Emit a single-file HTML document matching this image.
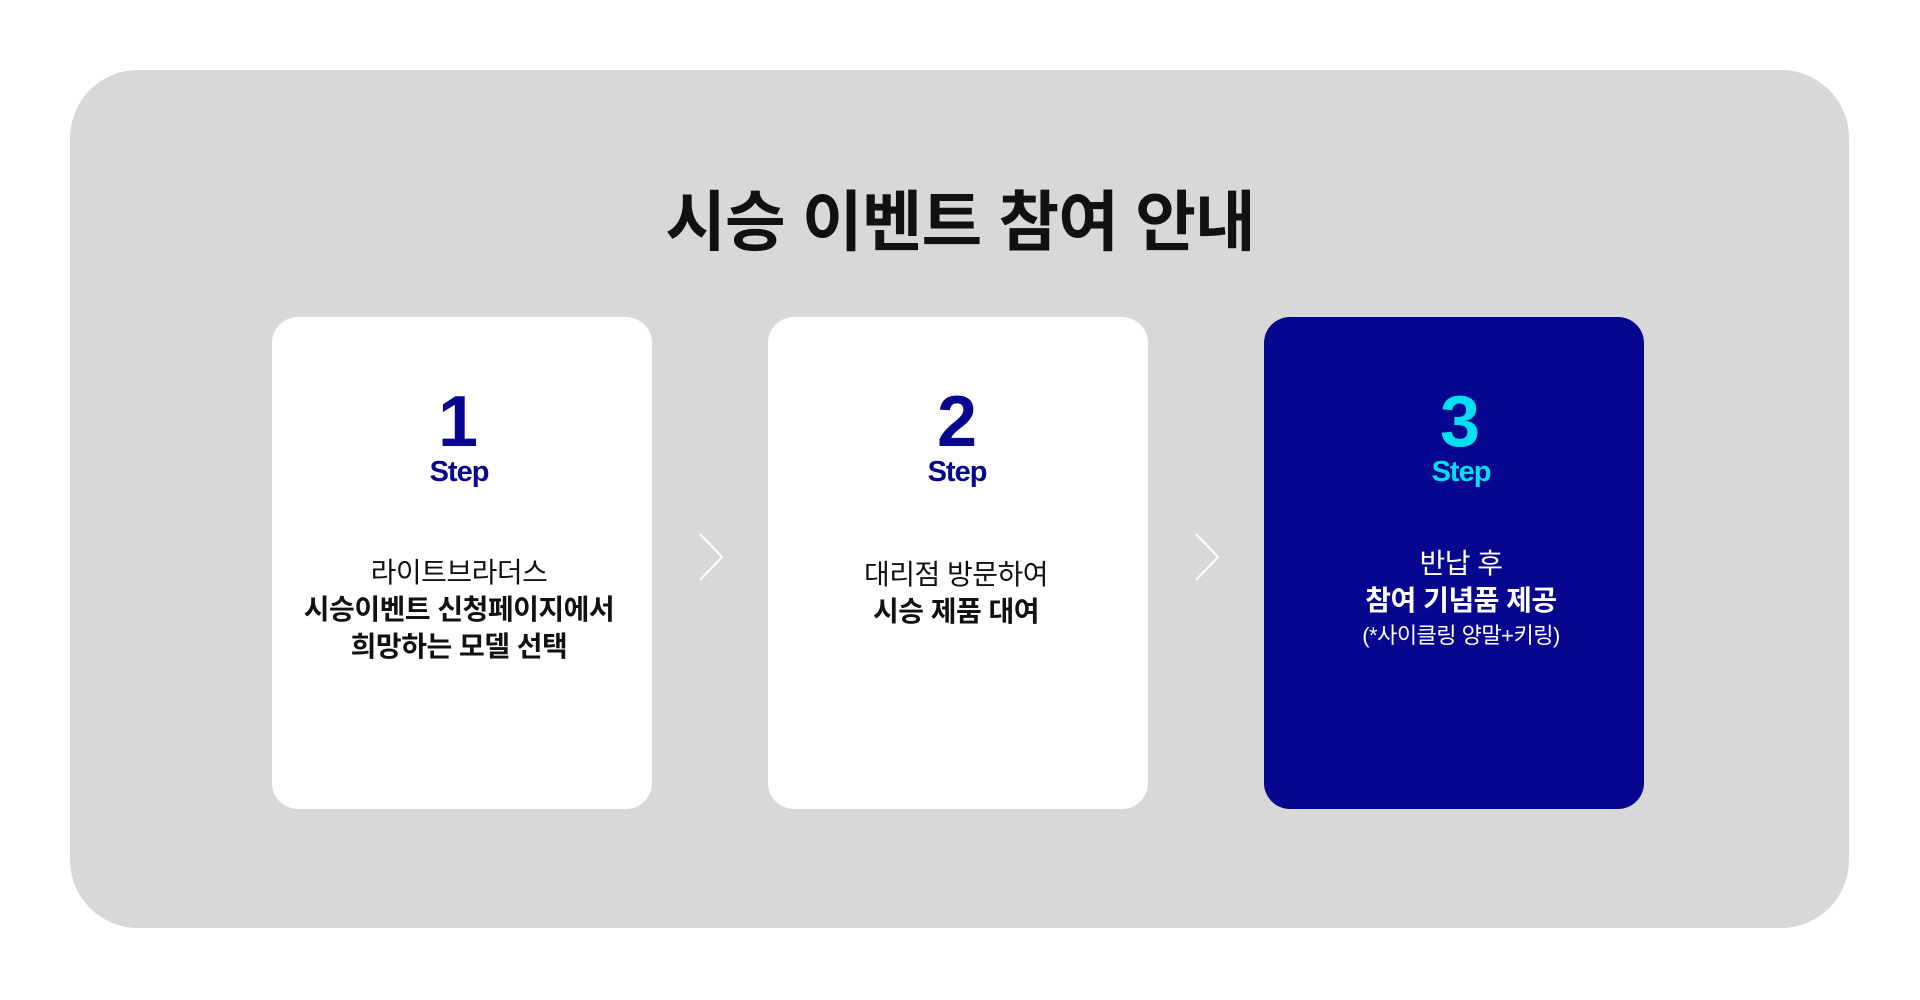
<!DOCTYPE html>
<html><head><meta charset="utf-8"><style>
body{margin:0;width:1920px;height:1000px;background:#fff;position:relative;overflow:hidden;font-family:"Liberation Sans","Noto Sans CJK KR",sans-serif}
.panel{position:absolute;left:70px;top:70px;width:1779px;height:858px;background:#d8d8d8;border-radius:68px}
.title{position:absolute;left:0;width:1920px;top:180px;text-align:center;font-size:66px;font-weight:bold;color:#111;line-height:84px;letter-spacing:-1px}
.card{position:absolute;top:317px;width:380px;height:492px;background:#fff;border-radius:26px;text-align:center}
.num{position:absolute;top:382px;font-size:72px;font-weight:bold;line-height:80px;color:#06068f;width:380px;text-align:center}
.step{position:absolute;top:454px;font-size:29px;font-weight:bold;line-height:36px;color:#06068f;letter-spacing:-1px;width:380px;text-align:center}
.txt{position:absolute;width:380px;text-align:center;font-size:28px;line-height:37px;color:#111;letter-spacing:-0.5px}
b{font-weight:bold}
</style></head><body>
<div class="panel"></div>
<div class="title">시승 이벤트 참여 안내</div>

<div class="card" style="left:272px"></div>
<div class="card" style="left:768px"></div>
<div class="card" style="left:1264px;background:#06068f"></div>

<div class="num" style="left:268px">1</div>
<div class="step" style="left:269px">Step</div>
<div class="txt" style="left:269px;top:554px">라이트브라더스<br><b>시승이벤트 신청페이지에서<br>희망하는 모델 선택</b></div>

<div class="num" style="left:767px">2</div>
<div class="step" style="left:767px">Step</div>
<div class="txt" style="left:766px;top:556px">대리점 방문하여<br><b>시승 제품 대여</b></div>

<div class="num" style="left:1270px;color:#00e0f0">3</div>
<div class="step" style="left:1271px;color:#00e0f0">Step</div>
<div class="txt" style="left:1271px;top:545px;color:#fff">반납 후<br><b>참여 기념품 제공</b></div>
<div class="txt" style="left:1271px;top:622px;color:#fff;font-size:22px;line-height:28px">(*사이클링 양말+키링)</div>

<svg width="1920" height="1000" style="position:absolute;left:0;top:0">
<polyline points="700,534 722,557 700,580" fill="none" stroke="#fff" stroke-width="2"/>
<polyline points="1196,534 1218,557 1196,580" fill="none" stroke="#fff" stroke-width="2"/>
</svg>
</body></html>
